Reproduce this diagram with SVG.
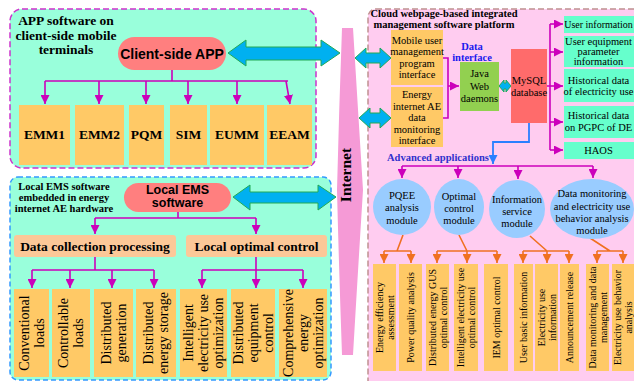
<svg xmlns="http://www.w3.org/2000/svg" width="634" height="381" viewBox="0 0 634 381">
<defs>
<style>
.serif{font-family:"Liberation Serif","Times New Roman",serif;}
.sans{font-family:"Liberation Sans",Arial,sans-serif;}
.b{font-weight:bold;}
.ob{fill:#ffc966;}
.pe{fill:#fcc898;}
.pill{fill:#ff7f7f;}
.aq{fill:#66ffcc;}
.ell{fill:#99ccff;}
.mg{stroke:#cc00bb;stroke-width:1.6;fill:none;}
.mga{stroke:#cc00bb;stroke-width:1.6;fill:none;marker-end:url(#am);}
.or{stroke:#f07020;stroke-width:1.6;fill:none;}
.ora{stroke:#f07020;stroke-width:1.6;fill:none;marker-end:url(#ao);}
.bla{stroke:#2a7fff;stroke-width:1.8;fill:none;marker-end:url(#ab);}
.dbl{fill:#00b0f0;stroke:#22aa55;stroke-width:1;}
.t14{font-size:14px;}
.t13{font-size:13.5px;}
.t10{font-size:10.5px;}
.t10s{font-size:10px;}
</style>
<marker id="am" viewBox="0 0 10 10" refX="10" refY="5" markerWidth="9" markerHeight="9" markerUnits="userSpaceOnUse" orient="auto"><path d="M0,0L10,5L0,10z" fill="#cc00bb"/></marker>
<marker id="ao" viewBox="0 0 10 10" refX="10" refY="5" markerWidth="9" markerHeight="9" markerUnits="userSpaceOnUse" orient="auto"><path d="M0,0L10,5L0,10z" fill="#f07020"/></marker>
<marker id="ab" viewBox="0 0 10 10" refX="10" refY="5" markerWidth="9" markerHeight="9" markerUnits="userSpaceOnUse" orient="auto"><path d="M0,0L10,5L0,10z" fill="#2a7fff"/></marker>
</defs>

<!-- panels -->
<g id="panel-app">
<rect x="10" y="9" width="306" height="159" rx="12" fill="#99ffdb" stroke="#cc33cc" stroke-width="1.5" stroke-dasharray="6,3"/>
<text class="serif b t13" text-anchor="middle"><tspan x="66" y="25">APP software on</tspan><tspan x="66" y="39.5">client-side mobile</tspan><tspan x="66" y="54">terminals</tspan></text>
</g>
<g id="panel-local">
<rect x="10" y="177" width="321" height="203" rx="8" fill="#99ffdb" stroke="#3399ff" stroke-width="1.5" stroke-dasharray="5,3"/>
<text class="serif b t10" text-anchor="middle"><tspan x="64" y="190">Local EMS software</tspan><tspan x="64" y="201">embedded in energy</tspan><tspan x="64" y="212">internet AE hardware</tspan></text>
</g>
<g id="panel-cloud">
<rect x="368" y="9" width="280" height="380" rx="8" fill="#ffccf0" stroke="#c09090" stroke-width="1.5" stroke-dasharray="6,3"/>
<text class="serif b t10" text-anchor="middle"><tspan x="444" y="17">Cloud webpage-based integrated</tspan><tspan x="444" y="28">management software platform</tspan></text>
</g>

<!-- internet -->
<g id="internet">
<path d="M342,28 L353,28 Q358,110 363,190 Q358,270 353,355 L342,355 Q339,270 337,190 Q339,110 342,28 Z" fill="#f59ad6"/>
<text class="serif b" font-size="15.5" text-anchor="middle" transform="translate(351,175) rotate(-90)" x="0" y="0">Internet</text>
</g>

<!-- connectors -->
<g id="connectors">
<polygon class="dbl" points="228,53 246,40 246,47 321,47 321,40 340,53 321,66 321,60 246,60 246,66"/>
<polygon class="dbl" points="233,197 250,185 250,192 318,192 318,185 336,197 318,210 318,203 250,203 250,210"/>
<polygon class="dbl" points="355,58 366,48 366,53 380,53 380,48 391,58 380,68 380,63 366,63 366,68"/>
<polygon class="dbl" points="359,118 370,108 370,113 380,113 380,108 391,118 380,128 380,123 370,123 370,128"/>
<polygon class="dbl" points="499,86 504,80 504,83 506,83 506,80 511,86 506,92 506,89 504,89 504,92"/>

<path class="mg" d="M172,70V81M45,81H288"/>
<path class="mga" d="M45,81V104"/>
<path class="mga" d="M99,81V104"/>
<path class="mga" d="M146,81V104"/>
<path class="mga" d="M188,81V104"/>
<path class="mga" d="M237,81V104"/>
<path class="mga" d="M286,81L290,104"/>

<path class="mg" d="M178,212V218M95,218H256"/>
<path class="mga" d="M95,218V234"/>
<path class="mga" d="M256,218V234"/>
<path class="mg" d="M95,257V270M32,270H154M256,257V270M202,270H303"/>
<path class="mga" d="M32,270V288"/>
<path class="mga" d="M70,270V288"/>
<path class="mga" d="M112,270V288"/>
<path class="mga" d="M154,270V288"/>
<path class="mga" d="M202,270V288"/>
<path class="mga" d="M256,270V288"/>
<path class="mga" d="M303,270V288"/>

<path class="mg" d="M443,58H448V118H443"/>
<path class="mga" d="M448,86H459"/>
<path class="mg" d="M547,86H550M550,24V150"/>
<path class="mga" d="M550,24H563"/>
<path class="mga" d="M550,52H563"/>
<path class="mga" d="M550,86H563"/>
<path class="mga" d="M550,122H563"/>
<path class="mga" d="M550,150H563"/>

<path class="bla" d="M529,123V142H493V164"/>
<path class="mg" d="M402,166H593"/>
<path class="mga" d="M402,166V178"/>
<path class="mga" d="M458,166V178"/>
<path class="mga" d="M518,166V179"/>
<path class="mga" d="M593,166V178"/>

<path class="or" d="M403,235L397,251M384,251H411M459,235L467,251M437,251H497M530,236L547,251M523,251H569M590,238L610,251M597,251H623"/>
<path class="ora" d="M384,251V263"/>
<path class="ora" d="M411,251V263"/>
<path class="ora" d="M437,251V263"/>
<path class="ora" d="M467,251V263"/>
<path class="ora" d="M497,251V263"/>
<path class="ora" d="M523,251V263"/>
<path class="ora" d="M547,251V263"/>
<path class="ora" d="M569,251V263"/>
<path class="ora" d="M597,251V263"/>
<path class="ora" d="M623,251V263"/>
</g>

<!-- top-left nodes -->
<g id="client-app"><rect class="pill" x="118" y="37" width="108" height="33" rx="16.5"/><text class="sans b" font-size="14" x="172" y="59" text-anchor="middle">Client-side APP</text></g>
<g id="emm1"><rect class="ob" x="19" y="105" width="51" height="60"/><text class="serif b t13" x="44.5" y="139" text-anchor="middle">EMM1</text></g>
<g id="emm2"><rect class="ob" x="75" y="105" width="49" height="60"/><text class="serif b t13" x="99.5" y="139" text-anchor="middle">EMM2</text></g>
<g id="pqm"><rect class="ob" x="129" y="105" width="35" height="60"/><text class="serif b t13" x="146.5" y="139" text-anchor="middle">PQM</text></g>
<g id="sim"><rect class="ob" x="170" y="105" width="37" height="60"/><text class="serif b t13" x="188.5" y="139" text-anchor="middle">SIM</text></g>
<g id="eumm"><rect class="ob" x="210" y="105" width="54" height="60"/><text class="serif b t13" x="237" y="139" text-anchor="middle">EUMM</text></g>
<g id="eeam"><rect class="ob" x="267" y="105" width="45" height="60"/><text class="serif b t13" x="289.5" y="139" text-anchor="middle">EEAM</text></g>

<!-- bottom-left nodes -->
<g id="local-ems"><rect class="pill" x="124" y="183" width="107" height="29" rx="14.5"/><text class="sans b" font-size="12.5" text-anchor="middle"><tspan x="177.5" y="194">Local EMS</tspan><tspan x="177.5" y="207">software</tspan></text></g>
<g id="data-collection"><rect class="pe" x="14" y="235" width="162" height="22" rx="3"/><text class="serif b t13" x="95" y="251" text-anchor="middle">Data collection processing</text></g>
<g id="local-control"><rect class="pe" x="186" y="235" width="141" height="22" rx="3"/><text class="serif b t13" x="256.5" y="251" text-anchor="middle">Local optimal control</text></g>

<g id="conv-loads"><rect class="ob" x="14" y="289" width="35" height="88"/><text class="serif t14" text-anchor="middle" transform="translate(31.5,333) rotate(-90)"><tspan x="0" y="-2.6">Conventional</tspan><tspan x="0" y="12.4">loads</tspan></text></g>
<g id="ctrl-loads"><rect class="ob" x="52" y="289" width="38" height="88"/><text class="serif t14" text-anchor="middle" transform="translate(71,333) rotate(-90)"><tspan x="0" y="-2.6">Controllable</tspan><tspan x="0" y="12.4">loads</tspan></text></g>
<g id="dist-gen"><rect class="ob" x="94" y="289" width="39" height="88"/><text class="serif t14" text-anchor="middle" transform="translate(113.5,333) rotate(-90)"><tspan x="0" y="-2.6">Distributed</tspan><tspan x="0" y="12.4">generation</tspan></text></g>
<g id="dist-storage"><rect class="ob" x="136" y="289" width="40" height="88"/><text class="serif t14" text-anchor="middle" transform="translate(156,333) rotate(-90)"><tspan x="0" y="-2.6">Distributed</tspan><tspan x="0" y="12.4">energy storage</tspan></text></g>
<g id="intel-opt"><rect class="ob" x="180" y="289" width="47" height="88"/><text class="serif t14" text-anchor="middle" transform="translate(203.5,333) rotate(-90)"><tspan x="0" y="-10.1">Intelligent</tspan><tspan x="0" y="4.9">electricity use</tspan><tspan x="0" y="19.9">optimization</tspan></text></g>
<g id="dist-equip"><rect class="ob" x="231" y="289" width="44" height="88"/><text class="serif t14" text-anchor="middle" transform="translate(253,333) rotate(-90)"><tspan x="0" y="-10.1">Distributed</tspan><tspan x="0" y="4.9">equipment</tspan><tspan x="0" y="19.9">control</tspan></text></g>
<g id="comp-opt"><rect class="ob" x="279" y="289" width="48" height="88"/><text class="serif t14" text-anchor="middle" transform="translate(303,333) rotate(-90)"><tspan x="0" y="-10.1">Comprehensive</tspan><tspan x="0" y="4.9">energy</tspan><tspan x="0" y="19.9">optimization</tspan></text></g>

<!-- right nodes -->
<g id="mobile-if"><rect class="ob" x="391" y="30" width="52" height="55"/><text class="serif t10" text-anchor="middle"><tspan x="417" y="43.5">Mobile user</tspan><tspan x="417" y="55">management</tspan><tspan x="417" y="66.5">program</tspan><tspan x="417" y="78">interface</tspan></text></g>
<g id="ae-if"><rect class="ob" x="391" y="87" width="52" height="60"/><text class="serif t10" text-anchor="middle"><tspan x="417" y="98">Energy</tspan><tspan x="417" y="109.5">internet AE</tspan><tspan x="417" y="121">data</tspan><tspan x="417" y="132.5">monitoring</tspan><tspan x="417" y="144">interface</tspan></text></g>
<g id="data-interface-label"><text class="serif b t10" fill="#1a1aee" text-anchor="middle"><tspan x="472" y="50">Data</tspan><tspan x="472" y="61">interface</tspan></text></g>
<g id="java"><rect x="460" y="62" width="39" height="49" fill="#92d050"/><text class="serif t10" text-anchor="middle"><tspan x="479.5" y="77">Java</tspan><tspan x="479.5" y="89.5">Web</tspan><tspan x="479.5" y="102">daemons</tspan></text></g>
<g id="mysql"><rect x="511" y="49" width="36" height="74" fill="#ff6b6b"/><text class="serif t10" text-anchor="middle"><tspan x="529" y="84">MySQL</tspan><tspan x="529" y="96">database</tspan></text></g>

<g id="user-info"><rect class="aq" x="564" y="16" width="76" height="17"/><text class="serif t10s" x="598.5" y="28" text-anchor="middle">User information</text></g>
<g id="user-equip"><rect class="aq" x="564" y="36" width="76" height="31"/><text class="serif t10" text-anchor="middle"><tspan x="598.5" y="44.5">User equipment</tspan><tspan x="598.5" y="55">parameter</tspan><tspan x="598.5" y="65">information</tspan></text></g>
<g id="hist-elec"><rect class="aq" x="564" y="69" width="76" height="33"/><text class="serif t10" text-anchor="middle"><tspan x="598.5" y="83.5">Historical data</tspan><tspan x="598.5" y="95">of electricity use</tspan></text></g>
<g id="hist-pgpc"><rect class="aq" x="564" y="106" width="76" height="32"/><text class="serif t10" text-anchor="middle"><tspan x="598.5" y="119">Historical data</tspan><tspan x="598.5" y="131">on PGPC of DE</tspan></text></g>
<g id="haos"><rect class="aq" x="564" y="142" width="76" height="17"/><text class="serif t10" x="598.5" y="154" text-anchor="middle">HAOS</text></g>

<g id="adv-label"><text class="serif b t10" fill="#3030cc" x="387" y="161">Advanced applications</text></g>

<g id="pqee"><ellipse class="ell" cx="402" cy="207" rx="29" ry="28"/><text class="serif t10" text-anchor="middle"><tspan x="402" y="198.5">PQEE</tspan><tspan x="402" y="211">analysis</tspan><tspan x="402" y="223.5">module</tspan></text></g>
<g id="optimal"><ellipse class="ell" cx="459" cy="207" rx="25" ry="28"/><text class="serif t10" text-anchor="middle"><tspan x="459" y="199.5">Optimal</tspan><tspan x="459" y="212">control</tspan><tspan x="459" y="224">module</tspan></text></g>
<g id="info-service"><ellipse class="ell" cx="517" cy="209" rx="28" ry="29"/><text class="serif t10" text-anchor="middle"><tspan x="517" y="203">Information</tspan><tspan x="517" y="215">service</tspan><tspan x="517" y="227">module</tspan></text></g>
<g id="data-monitor"><ellipse class="ell" cx="592" cy="209" rx="42" ry="30"/><text class="serif t10" text-anchor="middle"><tspan x="592" y="197">Data monitoring</tspan><tspan x="592" y="209.5">and electricity use</tspan><tspan x="592" y="222">behavior analysis</tspan><tspan x="592" y="234">module</tspan></text></g>

<g id="ee-assess"><rect class="ob" x="373" y="264" width="23" height="107"/><text class="serif t10s" text-anchor="middle" transform="translate(384.5,317.5) rotate(-90)"><tspan x="0" y="-2">Energy efficiency</tspan><tspan x="0" y="9">assessment</tspan></text></g>
<g id="pq-analysis"><rect class="ob" x="399" y="264" width="23" height="107"/><text class="serif t10s" text-anchor="middle" transform="translate(410.5,317.5) rotate(-90)"><tspan x="0" y="3.5">Power quality analysis</tspan></text></g>
<g id="gus-ctrl"><rect class="ob" x="426" y="264" width="23" height="107"/><text class="serif t10s" text-anchor="middle" transform="translate(437.5,317.5) rotate(-90)"><tspan x="0" y="-2">Distributed energy GUS</tspan><tspan x="0" y="9">optimal control</tspan></text></g>
<g id="ieu-ctrl"><rect class="ob" x="454" y="264" width="24" height="107"/><text class="serif t10s" text-anchor="middle" transform="translate(466,317.5) rotate(-90)"><tspan x="0" y="-2">Intelligent electricity use</tspan><tspan x="0" y="9">optimal control</tspan></text></g>
<g id="iem-ctrl"><rect class="ob" x="484" y="264" width="24" height="107"/><text class="serif t10s" text-anchor="middle" transform="translate(496,317.5) rotate(-90)"><tspan x="0" y="3.5">IEM optimal control</tspan></text></g>
<g id="user-basic"><rect class="ob" x="514" y="264" width="19" height="107"/><text class="serif t10s" text-anchor="middle" transform="translate(523.5,317.5) rotate(-90)"><tspan x="0" y="3.5">User basic information</tspan></text></g>
<g id="elec-info"><rect class="ob" x="535" y="264" width="23" height="107"/><text class="serif t10s" text-anchor="middle" transform="translate(546.5,317.5) rotate(-90)"><tspan x="0" y="-2">Electricity use</tspan><tspan x="0" y="9">information</tspan></text></g>
<g id="announce"><rect class="ob" x="560" y="264" width="19" height="107"/><text class="serif t10s" text-anchor="middle" transform="translate(569.5,317.5) rotate(-90)"><tspan x="0" y="3.5">Announcement release</tspan></text></g>
<g id="data-mgmt"><rect class="ob" x="586" y="264" width="23" height="107"/><text class="serif t10s" text-anchor="middle" transform="translate(597.5,317.5) rotate(-90)"><tspan x="0" y="-2">Data monitoring and data</tspan><tspan x="0" y="9">management</tspan></text></g>
<g id="behavior"><rect class="ob" x="612" y="264" width="24" height="107"/><text class="serif t10s" text-anchor="middle" transform="translate(623,317.5) rotate(-90)"><tspan x="0" y="-2">Electricity use behavior</tspan><tspan x="0" y="9">analysis</tspan></text></g>
</svg>
